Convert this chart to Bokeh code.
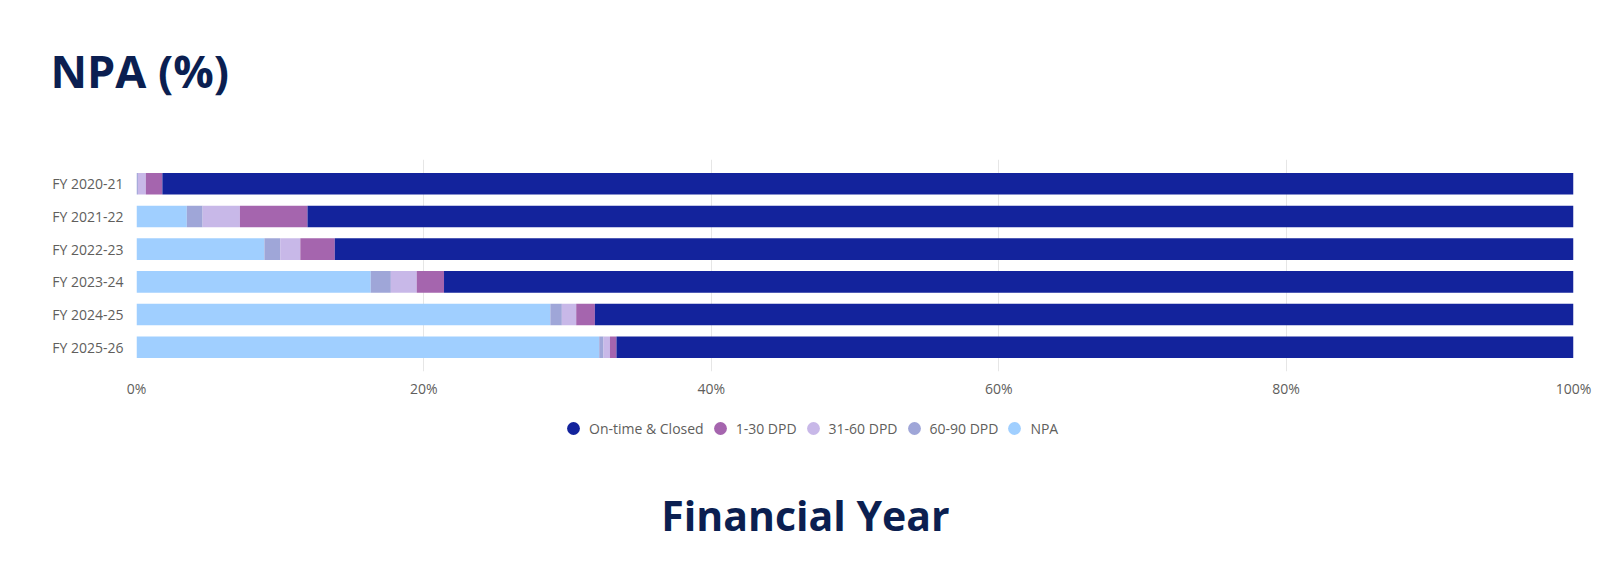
from bokeh.plotting import figure
from bokeh.layouts import column
from bokeh.models import (ColumnDataSource, FactorRange, Range1d, FixedTicker,
                          PrintfTickFormatter, Legend, LegendItem, Label)
from bokeh.embed import file_html
from bokeh.resources import INLINE

# ---- data (percent of portfolio) ----
years = ["FY 2020-21", "FY 2021-22", "FY 2022-23", "FY 2023-24", "FY 2024-25", "FY 2025-26"]
npa = [0.0, 3.5, 8.9, 16.3, 28.8, 32.2]
dpd_60_90 = [0.1, 1.1, 1.1, 1.4, 0.8, 0.3]
dpd_31_60 = [0.55, 2.6, 1.4, 1.8, 1.0, 0.45]
dpd_1_30 = [1.15, 4.7, 2.4, 1.9, 1.3, 0.45]
on_time = [98.2, 88.1, 86.2, 78.6, 68.1, 66.6]

series_keys = ["npa", "d6090", "d3160", "d130", "ontime"]
series_names = ["NPA", "60-90 DPD", "31-60 DPD", "1-30 DPD", "On-time & Closed"]
series_colors = ["#A0CFFF", "#9FA6D8", "#C8B8E8", "#A565AE", "#13239C"]
x_ticks = [0, 20, 40, 60, 80, 100]

W = 1603
NAVY = "#0B1F51"
GREY = "#605E5C"


def no_align(f):
    try:
        f.frame_align = False
    except Exception:
        pass


def blank(height):
    f = figure(width=W, height=height, output_backend="svg", toolbar_location=None,
               x_range=Range1d(0, W), y_range=Range1d(0, height),
               x_axis_location=None, y_axis_location=None,
               min_border=0, min_border_left=0, min_border_right=0,
               min_border_top=0, min_border_bottom=0)
    f.outline_line_color = None
    f.grid.visible = False
    no_align(f)
    return f


# ---- title strip ----
top_h = 140
top = blank(top_h)
top.add_layout(Label(x=50, y=top_h - 69.5, text="NPA (%)", text_font="Open Sans",
                     text_font_style="bold", text_font_size="45px", text_color=NAVY,
                     text_baseline="middle", text_align="left"))

# ---- main chart ----
source = ColumnDataSource(dict(fy=years, npa=npa, d6090=dpd_60_90, d3160=dpd_31_60,
                               d130=dpd_1_30, ontime=on_time))

p = figure(width=W, height=260, output_backend="svg", toolbar_location=None,
           y_range=FactorRange(factors=list(reversed(years)), range_padding=0.08),
           x_range=Range1d(0, 100),
           min_border_left=136, min_border_right=30, min_border_top=19, min_border_bottom=27)
p.outline_line_color = None
no_align(p)

p.hbar_stack(series_keys, y="fy", height=0.66, fill_color=series_colors,
             line_color=None, source=source)

p.xaxis.ticker = FixedTicker(ticks=x_ticks)
p.xaxis.formatter = PrintfTickFormatter(format="%d%%")
for ax in (p.xaxis[0], p.yaxis[0]):
    ax.axis_line_color = None
    ax.major_tick_line_color = None
    ax.minor_tick_line_color = None
    ax.major_tick_out = 0
    ax.major_tick_in = 0
    ax.minor_tick_out = 0
    ax.major_label_text_font = "Open Sans"
    ax.major_label_text_font_size = "14px"
    ax.major_label_text_color = GREY
p.xaxis.major_label_standoff = 7
p.yaxis.major_label_standoff = 13
p.xgrid.ticker = FixedTicker(ticks=x_ticks)
p.xgrid.grid_line_color = "#E6E6E6"
p.ygrid.visible = False

# ---- legend + axis title strip ----
bot_h = 169
bot = blank(bot_h)
items = []
for i in [4, 3, 2, 1, 0]:
    # single placeholder point kept outside the visible frame; only its legend swatch shows
    r = bot.scatter(x=[-1e6], y=[-1e6], marker="circle", fill_color=series_colors[i],
                    line_color=None, size=14)
    items.append(LegendItem(label=series_names[i], renderers=[r]))
legend = Legend(items=items, orientation="horizontal", location=(557, 125),
                glyph_width=32, glyph_height=32, label_standoff=0, spacing=0,
                padding=0, margin=0, border_line_color=None, background_fill_alpha=0,
                label_text_font="Open Sans", label_text_font_size="14px",
                label_text_color=GREY)
bot.add_layout(legend, "center")
bot.add_layout(Label(x=805, y=bot_h - 114, text="Financial Year", text_font="Open Sans",
                     text_font_style="bold", text_font_size="41px", text_color=NAVY,
                     text_baseline="middle", text_align="center"))

layout = column(top, p, bot, spacing=0)
open("out.html", "w").write(file_html(layout, INLINE))
